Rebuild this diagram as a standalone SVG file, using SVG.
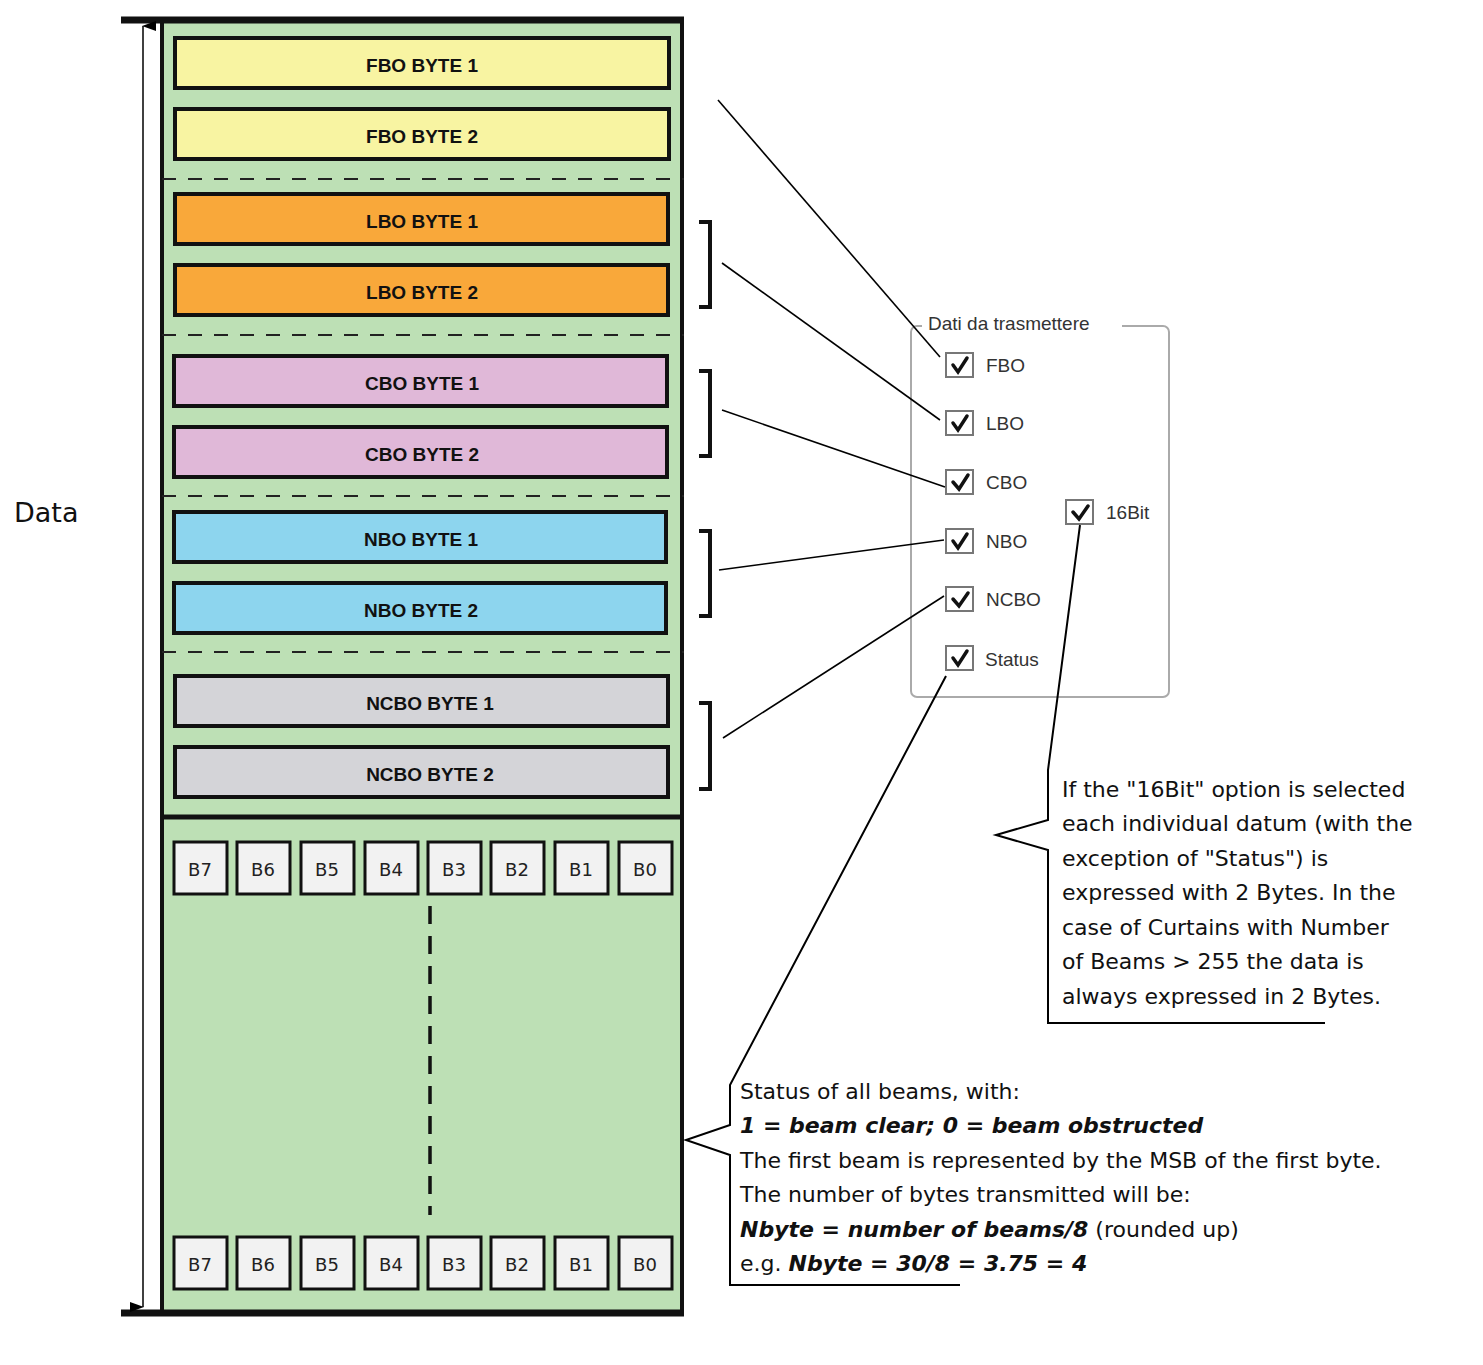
<svg xmlns="http://www.w3.org/2000/svg" width="1483" height="1365" viewBox="0 0 1483 1365">
<style>
.by{stroke:#111;stroke-width:4}
.bl{font-family:"Liberation Sans",Arial,sans-serif;font-weight:bold;font-size:19px;text-anchor:middle;fill:#111}
.bb{fill:#f2f2f2;stroke:#111;stroke-width:3}
.bt{font-family:"DejaVu Sans",sans-serif;font-size:18px;text-anchor:middle;fill:#222}
.ln{stroke:#000;stroke-width:1.6;fill:none}
.dash{stroke:#222;stroke-width:2;stroke-dasharray:14 12}
.cb{fill:#fff;stroke:#777;stroke-width:2}
.ck{fill:none;stroke:#111;stroke-width:3.5;stroke-linecap:round}
.cl{font-family:"Liberation Sans",Arial,sans-serif;font-size:19px;fill:#333}
.tx{font-family:"DejaVu Sans",sans-serif;font-size:22px;fill:#111}
.tb{font-weight:bold;font-style:italic}
</style>
<defs>
<marker id="ah" markerWidth="10" markerHeight="14" refX="5" refY="1" orient="auto-start-reverse" markerUnits="userSpaceOnUse" viewBox="0 0 10 14"><path d="M0,14 L5,0 L10,14 Z" fill="#000"/></marker>
</defs>
<rect width="1483" height="1365" fill="#fff"/>
<g id="frame">
<rect x="162" y="20" width="520" height="1293" fill="#bde0b5" stroke="#111" stroke-width="4"/>
<line x1="121" y1="20" x2="684" y2="20" stroke="#111" stroke-width="7"/>
<line x1="121" y1="1313" x2="684" y2="1313" stroke="#111" stroke-width="7"/>
<line x1="162" y1="817" x2="682" y2="817" stroke="#111" stroke-width="5"/>
<line x1="162" y1="179" x2="684" y2="179" class="dash"/>
<line x1="162" y1="335" x2="684" y2="335" class="dash"/>
<line x1="162" y1="496" x2="684" y2="496" class="dash"/>
<line x1="162" y1="652" x2="684" y2="652" class="dash"/>
<line x1="143" y1="26" x2="143" y2="1307" stroke="#000" stroke-width="1.5" marker-start="url(#ah)" marker-end="url(#ah)"/>
<text x="14" y="522" font-family="DejaVu Sans,sans-serif" font-size="27" fill="#111">Data</text>
</g>
<g id="fbo1"><rect x="175" y="38" width="494" height="50" fill="#f8f4a2" class="by"/><text x="422" y="72" class="bl">FBO BYTE 1</text></g>
<g id="fbo2"><rect x="175" y="109" width="494" height="50" fill="#f8f4a2" class="by"/><text x="422" y="143" class="bl">FBO BYTE 2</text></g>
<g id="lbo1"><rect x="175" y="194" width="493" height="50" fill="#f9a83a" class="by"/><text x="422" y="228" class="bl">LBO BYTE 1</text></g>
<g id="lbo2"><rect x="175" y="265" width="493" height="50" fill="#f9a83a" class="by"/><text x="422" y="299" class="bl">LBO BYTE 2</text></g>
<g id="cbo1"><rect x="174" y="356" width="493" height="50" fill="#e0b8d8" class="by"/><text x="422" y="390" class="bl">CBO BYTE 1</text></g>
<g id="cbo2"><rect x="174" y="427" width="493" height="50" fill="#e0b8d8" class="by"/><text x="422" y="461" class="bl">CBO BYTE 2</text></g>
<g id="nbo1"><rect x="174" y="512" width="492" height="50" fill="#8dd5ee" class="by"/><text x="421" y="546" class="bl">NBO BYTE 1</text></g>
<g id="nbo2"><rect x="174" y="583" width="492" height="50" fill="#8dd5ee" class="by"/><text x="421" y="617" class="bl">NBO BYTE 2</text></g>
<g id="ncbo1"><rect x="175" y="676" width="493" height="50" fill="#d4d4d8" class="by"/><text x="430" y="710" class="bl">NCBO BYTE 1</text></g>
<g id="ncbo2"><rect x="175" y="747" width="493" height="50" fill="#d4d4d8" class="by"/><text x="430" y="781" class="bl">NCBO BYTE 2</text></g>
<g id="bits-top">
<rect x="174" y="842" width="53" height="52" class="bb"/><text x="200" y="876" class="bt">B7</text>
<rect x="237" y="842" width="53" height="52" class="bb"/><text x="263" y="876" class="bt">B6</text>
<rect x="301" y="842" width="53" height="52" class="bb"/><text x="327" y="876" class="bt">B5</text>
<rect x="365" y="842" width="53" height="52" class="bb"/><text x="391" y="876" class="bt">B4</text>
<rect x="428" y="842" width="53" height="52" class="bb"/><text x="454" y="876" class="bt">B3</text>
<rect x="491" y="842" width="53" height="52" class="bb"/><text x="517" y="876" class="bt">B2</text>
<rect x="555" y="842" width="53" height="52" class="bb"/><text x="581" y="876" class="bt">B1</text>
<rect x="619" y="842" width="53" height="52" class="bb"/><text x="645" y="876" class="bt">B0</text>
</g>
<g id="bits-bottom">
<rect x="174" y="1237" width="53" height="52" class="bb"/><text x="200" y="1271" class="bt">B7</text>
<rect x="237" y="1237" width="53" height="52" class="bb"/><text x="263" y="1271" class="bt">B6</text>
<rect x="301" y="1237" width="53" height="52" class="bb"/><text x="327" y="1271" class="bt">B5</text>
<rect x="365" y="1237" width="53" height="52" class="bb"/><text x="391" y="1271" class="bt">B4</text>
<rect x="428" y="1237" width="53" height="52" class="bb"/><text x="454" y="1271" class="bt">B3</text>
<rect x="491" y="1237" width="53" height="52" class="bb"/><text x="517" y="1271" class="bt">B2</text>
<rect x="555" y="1237" width="53" height="52" class="bb"/><text x="581" y="1271" class="bt">B1</text>
<rect x="619" y="1237" width="53" height="52" class="bb"/><text x="645" y="1271" class="bt">B0</text>
</g>
<line x1="430" y1="906" x2="430" y2="1215" stroke="#111" stroke-width="3.5" stroke-dasharray="18 12"/>
<g id="brackets" fill="none" stroke="#111" stroke-width="4">
<path d="M699,222 H710 V307 H699"/>
<path d="M699,371 H710 V456 H699"/>
<path d="M699,531 H710 V616 H699"/>
<path d="M699,703 H710 V789 H699"/>
</g>
<g id="panel">
<rect x="911" y="326" width="258" height="371" rx="6" fill="#fff" stroke="#aaa" stroke-width="2"/>
<rect x="922" y="314" width="200" height="22" fill="#fff"/>
<text x="928" y="330" class="cl" fill="#333">Dati da trasmettere</text>
<rect x="946" y="353" width="27" height="24" class="cb"/><path d="M953,365 L958,372 L967,358" class="ck"/><text x="986" y="372" class="cl">FBO</text>
<rect x="946" y="411" width="27" height="24" class="cb"/><path d="M953,423 L958,430 L967,416" class="ck"/><text x="986" y="430" class="cl">LBO</text>
<rect x="946" y="470" width="27" height="24" class="cb"/><path d="M953,482 L959,489 L968,475" class="ck" stroke-width="5"/><text x="986" y="489" class="cl">CBO</text>
<rect x="946" y="529" width="27" height="24" class="cb"/><path d="M953,541 L958,548 L967,534" class="ck"/><text x="986" y="548" class="cl">NBO</text>
<rect x="946" y="587" width="27" height="24" class="cb"/><path d="M953,599 L959,606 L968,593" class="ck" stroke-width="5"/><text x="986" y="606" class="cl">NCBO</text>
<rect x="946" y="646" width="27" height="24" class="cb"/><path d="M953,658 L958,665 L967,651" class="ck"/><text x="985" y="666" class="cl">Status</text>
<rect x="1066" y="500" width="27" height="24" class="cb"/><path d="M1073,512 L1079,519 L1088,506" class="ck" stroke-width="5"/><text x="1106" y="519" class="cl">16Bit</text>
</g>
<g id="connectors" class="ln">
<line x1="718" y1="100" x2="940" y2="357"/>
<line x1="722" y1="263" x2="940" y2="420"/>
<line x1="722" y1="410" x2="945" y2="487"/>
<line x1="719" y1="570" x2="944" y2="540"/>
<line x1="723" y1="738" x2="944" y2="596"/>
<path d="M946,676 L730,1085 V1125 L686,1140 L730,1155 V1285 H960" stroke-width="2"/>
<path d="M1080,525 L1048,770 V820 L996,835 L1048,850 V1023 H1325" stroke-width="2"/>
</g>
<g id="note16">
<text class="tx"><tspan x="1062" y="797">If the "16Bit" option is selected</tspan><tspan x="1062" y="831">each individual datum (with the</tspan><tspan x="1062" y="866">exception of "Status") is</tspan><tspan x="1062" y="900">expressed with 2 Bytes. In the</tspan><tspan x="1062" y="935">case of Curtains with Number</tspan><tspan x="1062" y="969">of Beams &gt; 255 the data is</tspan><tspan x="1062" y="1004">always expressed in 2 Bytes.</tspan></text>
</g>
<g id="noteStatus">
<text class="tx"><tspan x="740" y="1099">Status of all beams, with:</tspan><tspan x="740" y="1133" class="tb">1 = beam clear; 0 = beam obstructed</tspan><tspan x="740" y="1168">The first beam is represented by the MSB of the first byte.</tspan><tspan x="740" y="1202">The number of bytes transmitted will be:</tspan><tspan x="740" y="1237"><tspan class="tb">Nbyte = number of beams/8</tspan> (rounded up)</tspan><tspan x="740" y="1271">e.g. <tspan class="tb">Nbyte = 30/8 = 3.75 = 4</tspan></tspan></text>
</g>
</svg>
